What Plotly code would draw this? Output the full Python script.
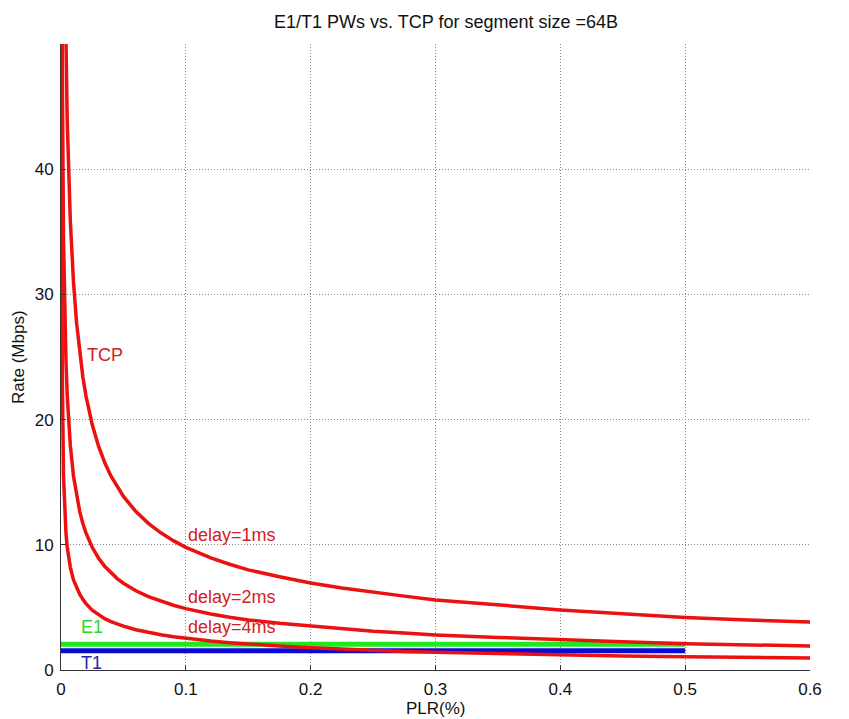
import plotly.graph_objects as go

# ---- data ----
plr = [0.0002, 0.0005, 0.001, 0.002, 0.003, 0.004, 0.005, 0.0075, 0.01, 0.0125, 0.015,
       0.0175, 0.02, 0.025, 0.03, 0.035, 0.04, 0.045, 0.05, 0.06, 0.07, 0.08, 0.09,
       0.1, 0.11, 0.12, 0.135, 0.15, 0.175, 0.2, 0.225, 0.25, 0.275, 0.3, 0.35,
       0.4, 0.45, 0.5, 0.55, 0.6]
tcp_delay1 = [219, 138, 98, 69, 56.5, 49.0, 43.8, 35.8, 31.0, 27.7, 25.3,
              23.4, 21.9, 19.6, 17.9, 16.57, 15.5, 14.61, 13.86, 12.65, 11.71, 10.96, 10.33,
              9.8, 9.35, 8.95, 8.45, 8.0, 7.45, 6.95, 6.55, 6.2, 5.9, 5.6, 5.2,
              4.8, 4.5, 4.2, 4.0, 3.83]
tcp_delay2 = [110, 69, 49, 34.5, 28.2, 24.6, 21.9, 17.9, 15.5, 13.9, 12.65,
              11.7, 10.95, 9.8, 8.95, 8.28, 7.75, 7.3, 6.93, 6.33, 5.86, 5.48, 5.17,
              4.9, 4.68, 4.48, 4.22, 4.0, 3.73, 3.5, 3.28, 3.1, 2.95, 2.8, 2.6,
              2.4, 2.25, 2.1, 2.0, 1.92]
tcp_delay4 = [55, 34.5, 24, 15.5, 12.5, 10.9, 9.8, 8.2, 7.2, 6.55, 6.05,
              5.65, 5.3, 4.78, 4.4, 4.1, 3.86, 3.66, 3.5, 3.22, 3.0, 2.82, 2.66,
              2.52, 2.41, 2.31, 2.18, 2.07, 1.91, 1.78, 1.67, 1.57, 1.48, 1.41, 1.29,
              1.2, 1.12, 1.06, 1.0, 0.95]
pw_plr = [0, 0.5]
e1_rate = [2.048, 2.048]
t1_rate = [1.544, 1.544]

x_ticks = [0, 0.1, 0.2, 0.3, 0.4, 0.5, 0.6]
x_ticktext = ["0", "0.1", "0.2", "0.3", "0.4", "0.5", "0.6"]
y_ticks = [0, 10, 20, 30, 40, 50]
y_ticktext = ["0", "10", "20", "30", "40", ""]

FONT = "Liberation Sans, Arial, sans-serif"
RED = "#ec1111"
# the page body adds an 8px offset; the figure is sized to fill the window
W, H, OFF = 841, 711, 8

fig = go.Figure()
fig.add_trace(go.Scatter(x=pw_plr, y=e1_rate, mode="lines",
                         line=dict(color="#1ee81e", width=5), name="E1"))
fig.add_trace(go.Scatter(x=pw_plr, y=t1_rate, mode="lines",
                         line=dict(color="#0a0ad8", width=5), name="T1"))
for ys in (tcp_delay1, tcp_delay2, tcp_delay4):
    fig.add_trace(go.Scatter(x=plr, y=ys, mode="lines",
                             line=dict(color=RED, width=3.5), name="TCP"))

def label(text, x, y, color, xanchor="left"):
    fig.add_annotation(x=x, y=y, xref="x", yref="y", text=text, showarrow=False,
                       xanchor=xanchor, yanchor="middle",
                       font=dict(family=FONT, size=18, color=color))

label("TCP", 0.0195, 25.2, "#d42020")
label("delay=1ms", 0.1, 10.8, "#d42020")
label("delay=2ms", 0.1, 5.8, "#d42020")
label("delay=4ms", 0.1, 3.45, "#d42020")
label("E1", 0.0145, 3.4, "#2ad82a")
label("T1", 0.0145, 0.56, "#2424a8")

# axis titles
fig.add_annotation(x=0.5, y=-0.061, xref="paper", yref="paper", text="PLR(%)",
                   showarrow=False, xanchor="center", yanchor="middle",
                   font=dict(family=FONT, size=17, color="#111"))
fig.add_annotation(x=-0.0575, y=0.5, xref="paper", yref="paper", text="Rate (Mbps)",
                   showarrow=False, xanchor="center", yanchor="middle", textangle=-90,
                   font=dict(family=FONT, size=17, color="#111"))

axis_common = dict(showline=True, linecolor="#333", linewidth=1,
                   ticks="inside", ticklen=5, tickcolor="#333",
                   showgrid=True, gridcolor="#8a8a8a", gridwidth=1, griddash="1px,2px",
                   zeroline=False, tickfont=dict(family=FONT, size=17, color="#111"))

fig.update_layout(
    width=W, height=H, autosize=False,
    margin=dict(l=61 - OFF, r=39, t=44 - OFF, b=49),
    paper_bgcolor="white", plot_bgcolor="white",
    showlegend=False,
    title=dict(text="E1/T1 PWs vs. TCP for segment size =64B",
               x=(446 - OFF) / W, xref="container", xanchor="center",
               y=1 - (22 - OFF) / H, yref="container", yanchor="middle",
               font=dict(family=FONT, size=18, color="#111")),
    xaxis=dict(range=[0, 0.6], tickvals=x_ticks, ticktext=x_ticktext,
               ticklabelstandoff=4, **axis_common),
    yaxis=dict(range=[0, 50], tickvals=y_ticks, ticktext=y_ticktext,
               ticklabelstandoff=3, **axis_common),
)

fig.write_html("out.html")
